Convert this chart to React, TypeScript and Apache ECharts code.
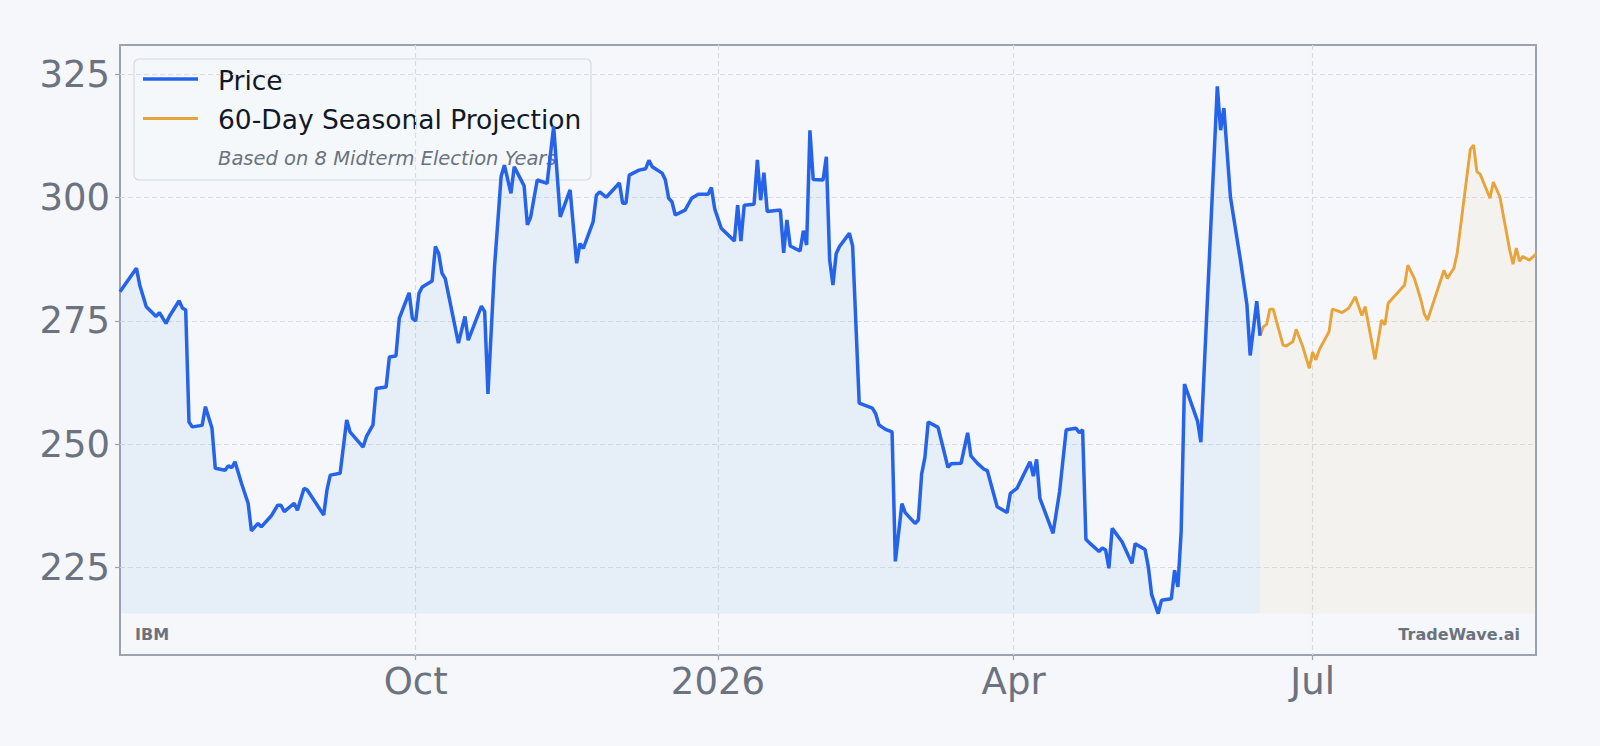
import React, { useEffect, useRef } from "react";
import * as echarts from "echarts";

// ---- data ----
const priceDates = [
  "2025-07-03","2025-07-08","2025-07-09","2025-07-11","2025-07-14","2025-07-15","2025-07-17","2025-07-18",
  "2025-07-21","2025-07-22","2025-07-23","2025-07-24","2025-07-25","2025-07-28","2025-07-29","2025-07-31",
  "2025-08-01","2025-08-04","2025-08-05","2025-08-06","2025-08-07","2025-08-09","2025-08-11","2025-08-12",
  "2025-08-14","2025-08-15","2025-08-18","2025-08-20","2025-08-21","2025-08-22","2025-08-25","2025-08-26",
  "2025-08-28","2025-08-29","2025-09-03","2025-09-04","2025-09-05","2025-09-08","2025-09-10","2025-09-11",
  "2025-09-15","2025-09-16","2025-09-18","2025-09-19","2025-09-22","2025-09-23","2025-09-25","2025-09-26",
  "2025-09-29","2025-09-30","2025-10-01","2025-10-02","2025-10-03","2025-10-06","2025-10-07","2025-10-08",
  "2025-10-09","2025-10-10","2025-10-14","2025-10-16","2025-10-17","2025-10-21","2025-10-22","2025-10-23",
  "2025-10-25","2025-10-27","2025-10-28","2025-10-30","2025-10-31","2025-11-03","2025-11-04","2025-11-05",
  "2025-11-07","2025-11-10","2025-11-12","2025-11-14","2025-11-17","2025-11-19","2025-11-20","2025-11-21",
  "2025-11-24","2025-11-25","2025-11-26","2025-11-28","2025-12-02","2025-12-03","2025-12-04","2025-12-05",
  "2025-12-08","2025-12-10","2025-12-11","2025-12-12","2025-12-15","2025-12-16","2025-12-17","2025-12-18",
  "2025-12-19","2025-12-22","2025-12-24","2025-12-26","2025-12-29","2025-12-30","2025-12-31","2026-01-02",
  "2026-01-06","2026-01-07","2026-01-08","2026-01-09","2026-01-12","2026-01-13","2026-01-14","2026-01-15",
  "2026-01-16","2026-01-20","2026-01-21","2026-01-22","2026-01-23","2026-01-26","2026-01-27","2026-01-28",
  "2026-01-29","2026-01-30","2026-02-02","2026-02-03","2026-02-04","2026-02-05","2026-02-06","2026-02-07",
  "2026-02-10","2026-02-11","2026-02-13","2026-02-17","2026-02-18","2026-02-19","2026-02-21","2026-02-23",
  "2026-02-24","2026-02-26","2026-02-27","2026-03-02","2026-03-03","2026-03-04","2026-03-05","2026-03-06",
  "2026-03-09","2026-03-12","2026-03-13","2026-03-16","2026-03-18","2026-03-19","2026-03-21","2026-03-23",
  "2026-03-24","2026-03-27","2026-03-30","2026-03-31","2026-04-02","2026-04-06","2026-04-07","2026-04-08",
  "2026-04-09","2026-04-13","2026-04-15","2026-04-17","2026-04-20","2026-04-21","2026-04-22","2026-04-23",
  "2026-04-24","2026-04-27","2026-04-28","2026-04-29","2026-04-30","2026-05-01","2026-05-04","2026-05-07",
  "2026-05-08","2026-05-11","2026-05-12","2026-05-13","2026-05-15","2026-05-16","2026-05-19","2026-05-20",
  "2026-05-21","2026-05-22","2026-05-23","2026-05-27","2026-05-28","2026-05-29","2026-06-02","2026-06-03",
  "2026-06-04","2026-06-06","2026-06-09","2026-06-11","2026-06-12","2026-06-14","2026-06-15",
];

const priceValues = [
  280.9, 285.7, 282.3, 277.9, 275.9, 276.7, 274.5, 275.9,
  279.1, 277.6, 277.2, 254.5, 253.5, 253.8, 257.6, 253.2,
  245.1, 244.7, 245.6, 245.2, 246.4, 242.0, 238.0, 232.4,
  233.9, 233.2, 235.4, 237.6, 237.6, 236.3, 238.0, 236.6,
  241.0, 240.7, 235.6, 240.7, 243.7, 244.1, 254.9, 252.5,
  249.4, 251.5, 253.9, 261.3, 261.6, 267.7, 267.9, 275.5,
  280.7, 275.5, 275.0, 280.6, 281.9, 283.1, 290.1, 288.7,
  284.7, 283.6, 270.5, 275.9, 271.1, 278.0, 276.9, 260.2,
  286.0, 304.3, 306.6, 300.9, 306.3, 302.4, 294.5, 296.1,
  303.6, 302.9, 314.5, 296.1, 301.6, 286.7, 290.7, 289.7,
  295.1, 300.5, 301.2, 300.1, 303.0, 298.9, 298.9, 304.6,
  305.6, 305.9, 307.6, 306.3, 305.0, 303.6, 299.9, 299.2,
  296.5, 297.5, 299.9, 300.7, 300.7, 302.1, 297.8, 293.8,
  291.2, 298.5, 291.2, 298.5, 298.7, 307.7, 299.5, 305.1,
  297.2, 297.5, 288.8, 295.5, 290.2, 289.2, 293.3, 290.4,
  313.7, 303.7, 303.6, 308.3, 287.4, 282.3, 288.7, 290.1,
  292.8, 290.2, 258.3, 257.3, 256.2, 253.9, 253.0, 252.5,
  226.2, 237.9, 236.1, 233.9, 234.6, 243.9, 247.3, 254.5,
  253.4, 245.3, 246.0, 246.1, 252.3, 247.6, 246.1, 244.9,
  244.6, 237.3, 236.1, 240.0, 241.0, 246.4, 243.5, 246.9,
  239.0, 231.9, 240.4, 252.9, 253.2, 252.3, 252.9, 230.7,
  230.0, 228.2, 228.9, 228.5, 224.8, 232.9, 230.2, 225.8,
  229.8, 228.6, 225.1, 219.5, 215.6, 218.3, 218.6, 224.4,
  221.0, 232.3, 262.2, 254.6, 250.4, 265.1, 322.6, 313.7,
  318.2, 300.1, 287.5, 278.4, 268.0, 279.0, 272.0,
];

const projectionDates = [
  "2026-06-15","2026-06-16","2026-06-17","2026-06-18","2026-06-19","2026-06-22","2026-06-23","2026-06-25",
  "2026-06-26","2026-06-28","2026-06-30","2026-07-01","2026-07-02","2026-07-03","2026-07-06","2026-07-07",
  "2026-07-08","2026-07-10","2026-07-12","2026-07-14","2026-07-16","2026-07-17","2026-07-20","2026-07-22",
  "2026-07-23","2026-07-24","2026-07-29","2026-07-30","2026-08-01","2026-08-03","2026-08-04","2026-08-05",
  "2026-08-10","2026-08-11","2026-08-13","2026-08-14","2026-08-18","2026-08-19","2026-08-20","2026-08-21",
  "2026-08-24","2026-08-25","2026-08-27","2026-08-30","2026-08-31","2026-09-01","2026-09-02","2026-09-03",
  "2026-09-05","2026-09-07",
];

const projectionValues = [
  272.0, 273.8, 274.3, 277.4, 277.4, 270.1, 269.9, 270.8,
  273.3, 269.8, 265.4, 268.7, 267.1, 269.1, 272.8, 277.4,
  277.2, 276.7, 277.6, 279.9, 276.1, 277.9, 267.2, 275.2,
  274.2, 278.6, 282.3, 286.3, 283.6, 279.2, 276.4, 275.2,
  285.3, 283.6, 285.7, 288.7, 309.8, 310.7, 305.3, 304.8,
  299.9, 303.2, 300.2, 289.4, 286.5, 289.8, 287.1, 288.1,
  287.3, 288.6,
];

const xTickDates = ["2025-10-01", "2026-01-01", "2026-04-01", "2026-07-01"];
const xTickLabels = ["Oct", "2026", "Apr", "Jul"];
const yTicks = [225, 250, 275, 300, 325];
const yRange = [207.2, 331.0];

const seriesNames = ["Price", "60-Day Seasonal Projection"];
const legendNote = "Based on 8 Midterm Election Years";
const tickerText = "IBM";
const brandText = "TradeWave.ai";

// ---- styles ----
const BG = "#f5f7fa";
const BLUE = "#2563eb";
const ORANGE = "#e8a33a";
const GRAY = "#6b7280";
const FONT = "DejaVu Sans";

const ts = (s: string) => new Date(s + "T00:00:00").getTime();

export default function App() {
  const ref = useRef<HTMLDivElement>(null);

  useEffect(() => {
    if (!ref.current) return;
    const chart = echarts.init(ref.current, undefined, { renderer: "svg" });

    const priceData = priceDates.map((d, i) => [ts(d), priceValues[i]]);
    const projData = projectionDates.map((d, i) => [ts(d), projectionValues[i]]);
    const baseline = Math.min(...priceValues);
    const xTickTs = xTickDates.map(ts);

    const option: any = {
      animation: false,
      backgroundColor: BG,
      textStyle: { fontFamily: FONT },
      grid: {
        left: 120,
        top: 45,
        width: 1416,
        height: 610,
        containLabel: false,
        outerBoundsMode: "none",
        show: true,
        borderColor: "#9ca3af",
        borderWidth: 2,
        backgroundColor: "transparent",
      },
      xAxis: {
        type: "value",
        min: ts(priceDates[0]),
        max: ts(projectionDates[projectionDates.length - 1]),
        axisLine: { show: false },
        axisTick: {
          show: true,
          customValues: xTickTs,
          length: 5,
          lineStyle: { color: "#9ca3af", width: 1.2 },
        },
        axisLabel: {
          customValues: xTickTs,
          formatter: (v: number) => {
            let best = 0;
            for (let i = 1; i < xTickTs.length; i++) {
              if (Math.abs(xTickTs[i] - v) < Math.abs(xTickTs[best] - v)) best = i;
            }
            return xTickLabels[best];
          },
          fontSize: 37,
          color: GRAY,
          fontFamily: FONT,
          margin: 8,
        },
        splitLine: {
          show: true,
          lineStyle: { color: "#d9dde3", width: 1.2, type: [5, 3] },
        },
      },
      yAxis: {
        type: "value",
        min: yRange[0],
        max: yRange[1],
        axisLine: { show: false },
        axisTick: {
          show: true,
          customValues: yTicks,
          length: 5,
          lineStyle: { color: "#9ca3af", width: 1.2 },
        },
        axisLabel: {
          customValues: yTicks,
          fontSize: 37,
          color: GRAY,
          fontFamily: FONT,
          margin: 10,
        },
        splitLine: {
          show: true,
          lineStyle: { color: "#d9dde3", width: 1.2, type: [5, 3] },
        },
      },
      series: [
        {
          name: seriesNames[1],
          type: "line",
          data: projData,
          showSymbol: false,
          symbol: "none",
          lineStyle: { color: ORANGE, width: 2.9 },
          itemStyle: { color: ORANGE },
          areaStyle: { color: "rgba(232,163,58,0.08)", origin: baseline },
          z: 2,
        },
        {
          name: seriesNames[0],
          type: "line",
          data: priceData,
          showSymbol: false,
          symbol: "none",
          lineStyle: { color: BLUE, width: 3.5 },
          itemStyle: { color: BLUE },
          areaStyle: { color: "rgba(74,144,226,0.12)", origin: baseline },
          z: 3,
        },
      ],
      graphic: [
        {
          type: "group",
          z: 100,
          children: [
            {
              type: "rect",
              shape: { x: 134, y: 59, width: 457, height: 121, r: 5 },
              style: { fill: "rgba(245,247,250,0.8)", stroke: "#d6dae0", lineWidth: 1.2 },
            },
            {
              type: "line",
              shape: { x1: 143, y1: 79, x2: 198, y2: 79 },
              style: { stroke: BLUE, lineWidth: 3.5 },
            },
            {
              type: "line",
              shape: { x1: 143, y1: 118.5, x2: 198, y2: 118.5 },
              style: { stroke: ORANGE, lineWidth: 2.9 },
            },
            {
              type: "text",
              x: 218,
              y: 80,
              style: {
                text: seriesNames[0],
                fontSize: 26.5,
                fontFamily: FONT,
                fill: "#111827",
                verticalAlign: "middle",
              },
            },
            {
              type: "text",
              x: 218,
              y: 119,
              style: {
                text: seriesNames[1],
                fontSize: 26.5,
                fontFamily: FONT,
                fill: "#111827",
                verticalAlign: "middle",
              },
            },
            {
              type: "text",
              x: 218,
              y: 158,
              style: {
                text: legendNote,
                fontSize: 19.5,
                fontStyle: "italic",
                fontFamily: FONT,
                fill: GRAY,
                verticalAlign: "middle",
              },
            },
          ],
        },
        {
          type: "text",
          z: 100,
          x: 135,
          y: 634,
          style: {
            text: tickerText,
            fontSize: 16,
            fontWeight: "bold",
            fontFamily: FONT,
            fill: GRAY,
            verticalAlign: "middle",
          },
        },
        {
          type: "text",
          z: 100,
          x: 1520,
          y: 634,
          style: {
            text: brandText,
            fontSize: 16,
            fontWeight: "bold",
            fontFamily: FONT,
            fill: GRAY,
            align: "right",
            verticalAlign: "middle",
          },
        },
      ],
    };

    chart.setOption(option);
    return () => chart.dispose();
  }, []);

  return (
    <div
      ref={ref}
      style={{
        position: "fixed",
        left: 0,
        top: 0,
        width: 1600,
        height: 746,
        background: BG,
      }}
    />
  );
}
